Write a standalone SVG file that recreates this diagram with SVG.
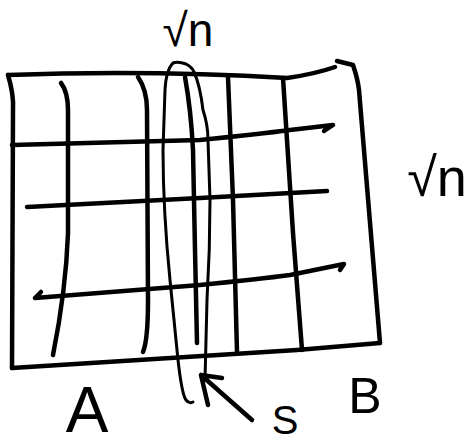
<svg xmlns="http://www.w3.org/2000/svg" width="472" height="446" viewBox="0 0 472 446">
<style>
.s{fill:none;stroke:#000;stroke-width:4.5;stroke-linecap:round;stroke-linejoin:round}
.t{fill:none;stroke:#000;stroke-width:3;stroke-linecap:round;stroke-linejoin:round}
.lbl{font-family:"Liberation Sans","DejaVu Sans",sans-serif;fill:#000;text-anchor:middle}
</style>
<rect width="472" height="446" fill="#fff"/>
<g id="grid">
<path class="s" d="M8,75 Q150,70 287,78 Q315,74 335,67"/>
<path class="s" d="M337,61 L353,65 Q358,80 359,90 L380,343"/>
<path class="s" d="M380,343 L297,350 L12,368"/>
<path class="s" d="M8,75 Q14,95 13,110 L12,368"/>
<path class="s" d="M61,83 Q68,92 68,110 L68,233 Q66,290 53,355"/>
<path class="s" d="M138,77 Q147,90 147,110 L148,300 Q148,340 143,352"/>
<path class="s" d="M185,77 Q191,110 193,150 L195,250 L197,343"/>
<path class="s" d="M228,77 L233,200 L237,352"/>
<path class="s" d="M283,78 L293,233 L302,350"/>
<path class="s" d="M12,145 L200,140 Q260,134 290,130 L333,125 M333,125 L324,131"/>
<path class="s" d="M27,207 L200,198 L327,191"/>
<path class="s" d="M35,298 L200,285 Q260,279 290,275 L344,264 M344,264 L340,270 M35,298 L41,292"/>
</g>
<g id="separator">
<path class="t" d="M173,63 Q178,61 186,64 Q192,67 194,72 Q200,85 203,110 Q208,125 208,140 L210,200 Q210,250 207,300 L205,380 M173,63 Q166,70 165,90 L163,150 Q163,210 170,280 Q175,330 178,360 Q182,395 186,400 Q189,404 193,402"/>
</g>
<g id="arrow">
<path class="s" d="M252,420 L201,375 M201,375 L222,378 M201,375 L208,405"/>
</g>
<g id="labels">
<text class="lbl" x="188" y="46" font-size="46">√n</text>
<text class="lbl" x="437" y="196" font-size="54">√n</text>
<text class="lbl" x="87" y="432" font-size="64">A</text>
<text class="lbl" x="285" y="434" font-size="40">S</text>
<text class="lbl" x="365" y="413" font-size="50">B</text>
</g>
</svg>
